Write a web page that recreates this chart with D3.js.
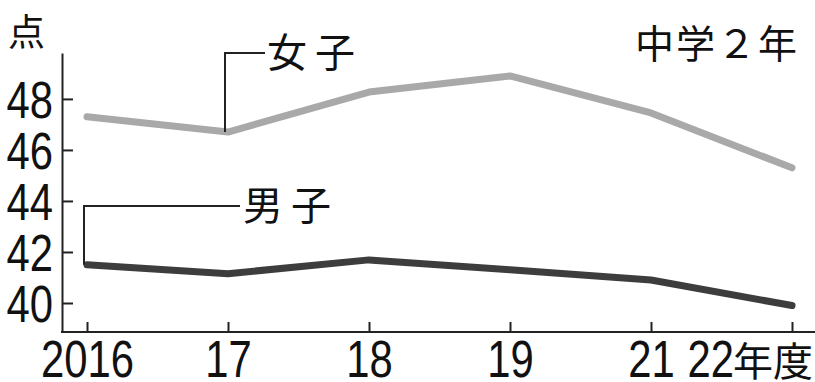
<!DOCTYPE html>
<html>
<head>
<meta charset="utf-8">
<script src="https://cdn.jsdelivr.net/npm/d3@7"></script>
<style>
  body { margin: 0; background: #fff; }
  svg { display: block; }
  .num { font-family: "Liberation Sans", Arial, sans-serif; fill: #111; }
  .jp { font-family: "Noto Sans CJK JP", sans-serif; fill: #111; }
</style>
</head>
<body>
<div id="chart"></div>
<script>
// data
let years = ["2016", "17", "18", "19", "21", "22"]
let girls = [47.3, 46.7, 48.27, 48.9, 47.45, 45.3]
let boys = [41.5, 41.15, 41.69, 41.3, 40.9, 39.9]
let yTicks = [40, 42, 44, 46, 48]

let width = 815, height = 382
let narrow = 0.82   // squeeze digits like a condensed face

let svg = d3.select('#chart')
            .append('svg')
            .attr('width', width)
            .attr('height', height)

let x = d3.scalePoint().domain(years).range([87, 792]).padding(0)
let y = d3.scaleLinear().domain([38.863, 49.8]).range([332, 53])

// y axis
let yAxis = d3.axisLeft(y)
              .tickValues(yTicks)
              .tickSizeInner(-11)
              .tickSizeOuter(0)
              .tickPadding(9)

let gy = svg.append('g')
    .attr('transform', 'translate(62,0)')
    .call(yAxis)
gy.select('.domain').attr('stroke', '#222').attr('stroke-width', 2)
gy.selectAll('.tick line').attr('stroke', '#222').attr('stroke-width', 2)
gy.selectAll('.tick text')
    .attr('class', 'num')
    .style('font-size', '51px')
    .attr('x', 0)
    .attr('dy', '0.36em')
    .attr('transform', 'translate(-9,0) scale(' + narrow + ',1)')
    .attr('fill', '#111')

// x axis
let xAxis = d3.axisBottom(x)
              .tickSizeInner(-10)
              .tickSizeOuter(0)
              .tickFormat(d => d == '22' ? '' : d)
              .tickPadding(8)

let gx = svg.append('g')
    .attr('transform', 'translate(0,332)')
    .call(xAxis)
gx.select('.domain').remove()
gx.selectAll('.tick line').attr('stroke', '#222').attr('stroke-width', 2)
gx.selectAll('.tick text')
    .attr('class', 'num')
    .style('font-size', '51px')
    .attr('y', 0)
    .attr('dy', 0)
    .attr('transform', 'translate(0,45) scale(' + narrow + ',1)')
    .attr('fill', '#111')

svg.append('line')
    .attr('x1', 61).attr('x2', 815)
    .attr('y1', 332).attr('y2', 332)
    .attr('stroke', '#222').attr('stroke-width', 2)

// last label: 22年度
svg.append('text')
    .attr('class', 'num')
    .attr('text-anchor', 'end')
    .attr('transform', 'translate(734,377) scale(' + narrow + ',1)')
    .style('font-size', '51px')
    .text(years[years.length - 1])
svg.append('text')
    .attr('class', 'jp')
    .attr('x', 813)
    .attr('y', 376)
    .attr('text-anchor', 'end')
    .style('font-size', '40px')
    .text('年度')

// lines
let line = d3.line()
    .x((d, i) => x(years[i]))
    .y(d => y(d))

svg.append('path')
    .datum(girls)
    .attr('d', line)
    .attr('fill', 'none')
    .attr('stroke', '#a9a9a9')
    .attr('stroke-width', 7)
    .attr('stroke-linecap', 'round')
    .attr('stroke-linejoin', 'round')

svg.append('path')
    .datum(boys)
    .attr('d', line)
    .attr('fill', 'none')
    .attr('stroke', '#3d3d3d')
    .attr('stroke-width', 7)
    .attr('stroke-linecap', 'round')
    .attr('stroke-linejoin', 'round')

// leader lines and series labels
let leader = [
    {name: '女子', i: 1, vals: girls, ly: 53, lx: 265, tx: 267},
    {name: '男子', i: 0, vals: boys, ly: 206, lx: 240, tx: 243}
]

leader.forEach(d => {
    let px = x(years[d.i]) - 3
    svg.append('path')
        .attr('d', d3.line()([[px, y(d.vals[d.i])], [px, d.ly], [d.lx, d.ly]]))
        .attr('fill', 'none')
        .attr('stroke', '#222')
        .attr('stroke-width', 2)
    svg.append('text')
        .attr('class', 'jp')
        .attr('x', d.tx)
        .attr('y', d.ly + 14)
        .style('font-size', '40px')
        .style('letter-spacing', '8px')
        .text(d.name)
})

// unit and title
svg.append('text')
    .attr('class', 'jp')
    .attr('x', 8)
    .attr('y', 46)
    .style('font-size', '37px')
    .text('点')

svg.append('text')
    .attr('class', 'jp')
    .attr('x', 635)
    .attr('y', 58)
    .style('font-size', '39px')
    .style('letter-spacing', '2px')
    .text('中学２年')
</script>
</body>
</html>
